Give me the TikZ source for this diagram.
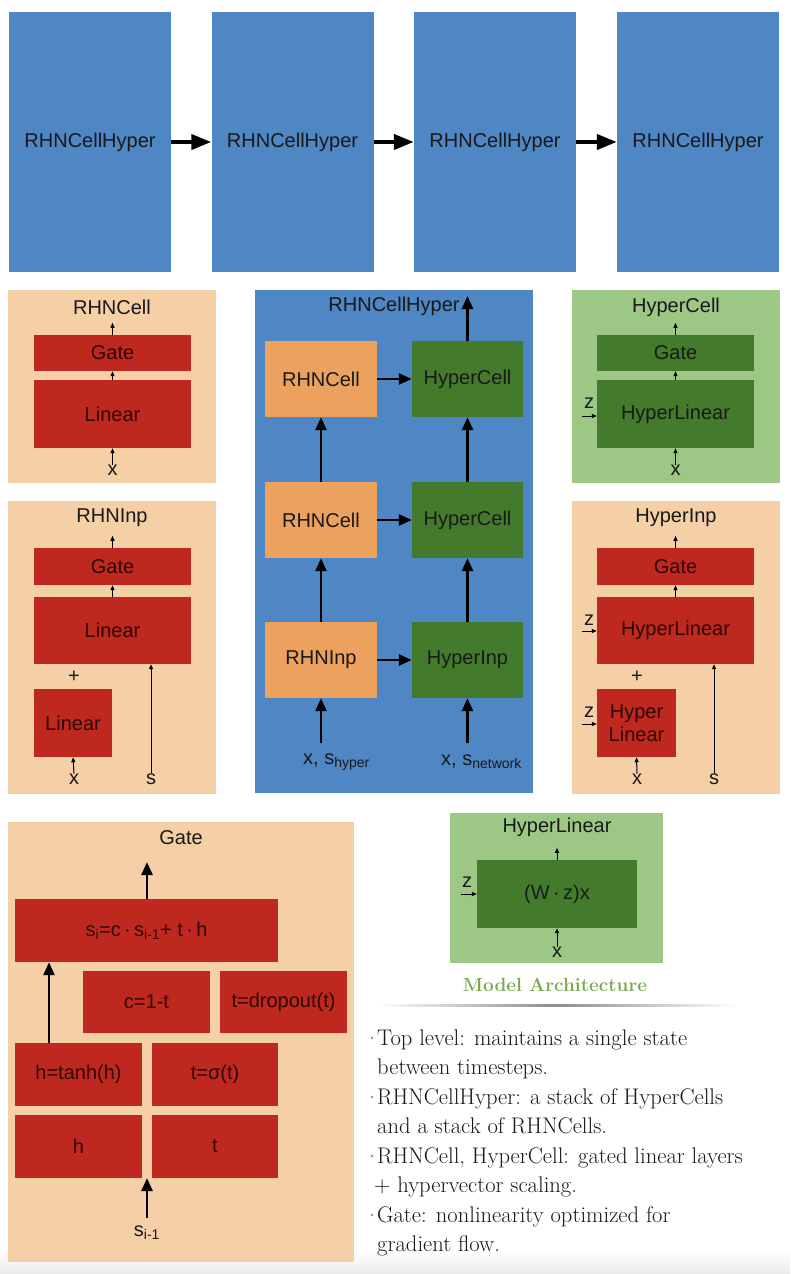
\documentclass[tikz,border=0pt]{standalone}
\usepackage{fontspec}
\newfontfamily\lsans{Liberation Sans}
\usetikzlibrary{arrows.meta}
\definecolor{cblue}{RGB}{79,134,196}
\definecolor{cpeach}{RGB}{245,207,166}
\definecolor{cred}{RGB}{190,40,30}
\definecolor{corange}{RGB}{236,162,94}
\definecolor{cdgreen}{RGB}{68,122,44}
\definecolor{clgreen}{RGB}{156,199,132}
\definecolor{ctext}{RGB}{25,25,25}
\definecolor{credtext}{RGB}{45,8,6}
\definecolor{ctitlegreen}{RGB}{125,168,80}
\tikzset{
  lbl/.style={font=\lsans\fontsize{20}{24}\selectfont, text=ctext, inner sep=1pt},
  box/.style={rectangle, inner sep=0pt, draw=none, font=\lsans\fontsize{20}{24}\selectfont, align=center},
  bluebox/.style={box, fill=cblue, text=ctext},
  redbox/.style={box, fill=cred, text=credtext},
  orbox/.style={box, fill=corange, text=ctext},
  gnbox/.style={box, fill=cdgreen, text=ctext},
  panel/.style={rectangle, inner sep=0pt, draw=none},
  bigarrow/.style={line width=4pt, -{Triangle[length=20pt,width=15pt]}},
  medarrow/.style={line width=2.6pt, -{Triangle[length=13pt,width=11pt]}},
  smallarrow/.style={line width=1pt, -{Triangle[length=5pt,width=4pt]}},
  bullettext/.style={anchor=base west, inner sep=0pt, font=\fontsize{22.6}{29}\selectfont, text=ctext},
}
\begin{document}
\begin{tikzpicture}[x=1pt,y=-1pt]
\useasboundingbox (0,0) rectangle (790,1274);
\fill[white] (0,0) rectangle (790,1274);
\shade[top color=white, bottom color=black!8] (0,1250) rectangle (790,1274);

% ---------- top row ----------
\node[bluebox, minimum width=162pt, minimum height=260pt] (t1) at (90,142) {RHNCellHyper};
\node[bluebox, minimum width=162pt, minimum height=260pt] (t2) at (292.5,142) {RHNCellHyper};
\node[bluebox, minimum width=162pt, minimum height=260pt] (t3) at (495,142) {RHNCellHyper};
\node[bluebox, minimum width=162pt, minimum height=260pt] (t4) at (698,142) {RHNCellHyper};
\draw[bigarrow] (t1.east) -- (t2.west);
\draw[bigarrow] (t2.east) -- (t3.west);
\draw[bigarrow] (t3.east) -- (t4.west);

% ---------- RHNCell panel ----------
\node[panel, fill=cpeach, minimum width=208pt, minimum height=193pt] (p1) at (112,386.5) {};
\node[lbl] (p1t) at (112,307) {RHNCell};
\node[redbox, minimum width=157pt, minimum height=36pt] (p1g) at (112.5,353) {Gate};
\node[redbox, minimum width=157pt, minimum height=68pt] (p1l) at (112.5,414) {Linear};
\node[lbl, inner sep=0pt] (p1x) at (112.5,470) {x};
\draw[smallarrow] (p1x.north) -- (p1l.south);
\draw[smallarrow] (p1l.north) -- (p1g.south);
\draw[smallarrow] (p1g.north) -- ++(0,-12);

% ---------- RHNInp panel ----------
\node[panel, fill=cpeach, minimum width=208pt, minimum height=293pt] (p2) at (112,647.5) {};
\node[lbl] (p2t) at (112,518) {RHNInp};
\node[redbox, minimum width=157pt, minimum height=37pt] (p2g) at (112.5,566.5) {Gate};
\node[redbox, minimum width=157pt, minimum height=67pt] (p2l) at (112.5,630.5) {Linear};
\node[lbl, inner sep=0pt] (p2p) at (74,677) {+};
\node[redbox, minimum width=78pt, minimum height=68pt] (p2s) at (73,723) {Linear};
\node[lbl, inner sep=0pt] (p2x) at (74,779) {x};
\node[lbl, inner sep=0pt] (p2sv) at (151,779) {s};
\draw[smallarrow] (p2x.north) -- (p2s.south);
\draw[smallarrow] (p2sv.north) -- (p2sv.north |- p2l.south);
\draw[smallarrow] (p2l.north) -- (p2g.south);
\draw[smallarrow] (p2g.north) -- ++(0,-12);

% ---------- RHNCellHyper panel ----------
\node[panel, fill=cblue, minimum width=278pt, minimum height=503pt] (pc) at (394,541.5) {};
\node[lbl] (pct) at (394,306) {RHNCellHyper};
\node[orbox, minimum width=112pt, minimum height=76pt] (o1) at (321,379) {RHNCell};
\node[orbox, minimum width=112pt, minimum height=76pt] (o2) at (321,520) {RHNCell};
\node[orbox, minimum width=112pt, minimum height=76pt] (o3) at (321,660) {RHNInp};
\node[gnbox, minimum width=111pt, minimum height=76pt] (g1) at (467.5,379) {HyperCell};
\node[gnbox, minimum width=111pt, minimum height=76pt] (g2) at (467.5,520) {HyperCell};
\node[gnbox, minimum width=111pt, minimum height=76pt] (g3) at (467.5,660) {HyperInp};
\coordinate (gout) at (467.5,296);
\node[lbl, anchor=west] (inh) at (302,762) {x, s\textsubscript{hyper}};
\node[lbl, anchor=west] (inn) at (440,762) {x, s\textsubscript{network}};
\coordinate (inhs) at (321,743);
\coordinate (inns) at (467.5,743);
\draw[medarrow] (o1.east) -- (g1.west);
\draw[medarrow] (o2.east) -- (g2.west);
\draw[medarrow] (o3.east) -- (g3.west);
\draw[medarrow] (o3.north) -- (o2.south);
\draw[medarrow] (o2.north) -- (o1.south);
\draw[medarrow] (g3.north) -- (g2.south);
\draw[medarrow] (g2.north) -- (g1.south);
\draw[medarrow] (g1.north) -- (gout);
\draw[medarrow] (inhs) -- (o3.south);
\draw[medarrow] (inns) -- (g3.south);

% ---------- HyperCell panel ----------
\node[panel, fill=clgreen, minimum width=208pt, minimum height=193pt] (p3) at (676,386.5) {};
\node[lbl] (p3t) at (676,307) {HyperCell};
\node[gnbox, minimum width=157pt, minimum height=36pt] (p3g) at (675.5,353) {Gate};
\node[gnbox, minimum width=157pt, minimum height=68pt] (p3l) at (675.5,414) {HyperLinear};
\node[lbl, inner sep=0pt] (p3x) at (675.5,470) {x};
\node[lbl, inner sep=0pt] (p3z) at (589,403) {z};
\coordinate (p3zs) at (582,416);
\draw[smallarrow] (p3x.north) -- (p3l.south);
\draw[smallarrow] (p3l.north) -- (p3g.south);
\draw[smallarrow] (p3g.north) -- ++(0,-12);
\draw[smallarrow] (p3zs) -- (p3zs -| p3l.west);

% ---------- HyperInp panel ----------
\node[panel, fill=cpeach, minimum width=208pt, minimum height=293pt] (p4) at (676,647.5) {};
\node[lbl] (p4t) at (676,518) {HyperInp};
\node[redbox, minimum width=157pt, minimum height=37pt] (p4g) at (675.5,566.5) {Gate};
\node[redbox, minimum width=157pt, minimum height=67pt] (p4l) at (675.5,630.5) {HyperLinear};
\node[lbl, inner sep=0pt] (p4p) at (637,677) {+};
\node[redbox, minimum width=79pt, minimum height=68pt, font=\lsans\fontsize{20}{23}\selectfont] (p4s) at (636.5,723) {Hyper\\Linear};
\node[lbl, inner sep=0pt] (p4x) at (637,779) {x};
\node[lbl, inner sep=0pt] (p4sv) at (714,779) {s};
\node[lbl, inner sep=0pt] (p4z1) at (589,620) {z};
\node[lbl, inner sep=0pt] (p4z2) at (589,712) {z};
\coordinate (p4z1s) at (582,631);
\coordinate (p4z2s) at (582,724);
\draw[smallarrow] (p4x.north) -- (p4s.south);
\draw[smallarrow] (p4sv.north) -- (p4sv.north |- p4l.south);
\draw[smallarrow] (p4l.north) -- (p4g.south);
\draw[smallarrow] (p4g.north) -- ++(0,-12);
\draw[smallarrow] (p4z1s) -- (p4z1s -| p4l.west);
\draw[smallarrow] (p4z2s) -- (p4z2s -| p4s.west);

% ---------- Gate panel ----------
\begin{scope}[every node/.append style={font=\lsans\fontsize{21}{25}\selectfont}]
\node[panel, fill=cpeach, minimum width=346pt, minimum height=440pt] (p5) at (181,1042) {};
\node[lbl] (p5t) at (181,838) {Gate};
\node[redbox, minimum width=263pt, minimum height=63pt] (gs) at (146.5,930.5) {s\textsubscript{i}=c\,·\,s\textsubscript{i-1}+ t\,·\,h};
\node[redbox, minimum width=127pt, minimum height=62pt] (gc) at (146.5,1002) {c=1-t};
\node[redbox, minimum width=127pt, minimum height=62pt] (gd) at (283.5,1002) {t=dropout(t)};
\node[redbox, minimum width=127pt, minimum height=63pt] (ght) at (78.5,1074.5) {h=tanh(h)};
\node[redbox, minimum width=126pt, minimum height=63pt] (gts) at (215,1074.5) {t=σ(t)};
\node[redbox, minimum width=127pt, minimum height=63pt] (gh) at (78.5,1146.5) {h};
\node[redbox, minimum width=126pt, minimum height=63pt] (gt) at (215,1146.5) {t};
\node[lbl, inner sep=0pt] (gin) at (147,1233) {s\textsubscript{i-1}};
\end{scope}
\coordinate (gout2) at (147,862);
\coordinate (gin2) at (147,1178);
\draw[medarrow] (gs.north -| gout2) -- (gout2);
\draw[medarrow] (ght.north -| 49,0) -- (gs.south -| 49,0);
\draw[medarrow] (147,1218) -- (gin2);

% ---------- HyperLinear panel ----------
\node[panel, fill=clgreen, minimum width=213pt, minimum height=150pt] (p6) at (556.5,888) {};
\node[lbl] (p6t) at (557,827) {HyperLinear};
\node[gnbox, minimum width=160pt, minimum height=68pt] (p6b) at (557,894) {(W\,·\,z)x};
\node[lbl, inner sep=0pt] (p6x) at (557,952) {x};
\node[lbl, inner sep=0pt] (p6z) at (467,882) {z};
\coordinate (p6zs) at (461,894);
\draw[smallarrow] (p6x.north) -- (p6b.south);
\draw[smallarrow] (p6b.north) -- ++(0,-12);
\draw[smallarrow] (p6zs) -- (p6b.west);

% ---------- caption and bullets ----------
\node[font=\bfseries\fontsize{19}{23}\selectfont, text=ctitlegreen] (cap) at (555,985) {Model Architecture};
\shade[left color=white, right color=white, middle color=black!45] (375,1004) rectangle (737,1006);
\foreach \yy in {1045,1104,1163,1222} {\fill[ctitlegreen] (372,\yy-7) circle (1.3);}
\node[bullettext] (b1) at (377,1045) {Top level: maintains a single state};
\node[bullettext] (b1b) at (377,1074) {between timesteps.};
\node[bullettext] (b2) at (377,1104) {RHNCellHyper: a stack of HyperCells};
\node[bullettext] (b2b) at (377,1133) {and a stack of RHNCells.};
\node[bullettext] (b3) at (377,1163) {RHNCell, HyperCell: gated linear layers};
\node[bullettext] (b3b) at (374,1192) {+ hypervector scaling.};
\node[bullettext] (b4) at (377,1222) {Gate: nonlinearity optimized for};
\node[bullettext] (b4b) at (377,1251) {gradient flow.};
\end{tikzpicture}
\end{document}
